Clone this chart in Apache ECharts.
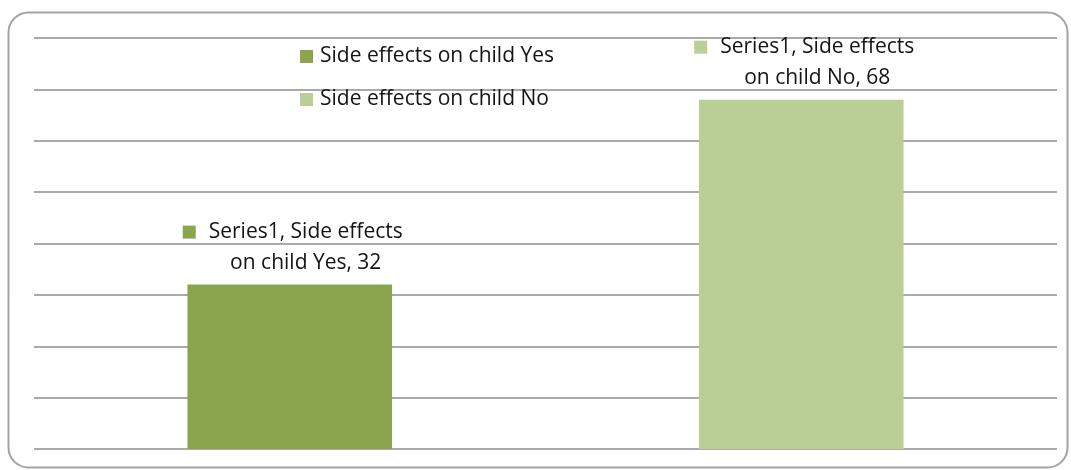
<!DOCTYPE html>
<html>
<head>
<meta charset="utf-8">
<script src="https://cdn.jsdelivr.net/npm/echarts@6/dist/echarts.min.js"></script>
<style>
  html, body { margin: 0; padding: 0; background: #ffffff; }
  #chart { width: 1071px; height: 470px; }
</style>
</head>
<body>
<div id="chart"></div>
<script>
// Survey answers: did the child experience side effects?
const categories = ['Side effects on child Yes', 'Side effects on child No'];
const values = [32, 68];
const seriesName = 'Series1';
const colors = ['#8aa54e', '#b9cf96'];

const FONT = 'Open Sans';
const TEXT = '#141414';
const FS = 21;

const chart = echarts.init(document.getElementById('chart'));

// One bar series per category so each gets its own legend entry;
// bars overlap fully (barGap -100%) so each sits centred on its category.
// Each data label carries a colour key on its first line; the second line
// gets an equally wide blank so both text lines stay centred together.
const series = categories.map((name, i) => ({
  name: name,
  type: 'bar',
  barWidth: '40%',
  barGap: '-100%',
  itemStyle: { color: colors[i] },
  data: values.map((v, j) => (j === i ? v : '-')),
  label: {
    show: true,
    position: 'top',
    distance: 6,
    offset: [3, 0],
    fontFamily: FONT,
    fontSize: FS,
    color: TEXT,
    lineHeight: 31,
    align: 'center',
    formatter: p => {
      const parts = p.seriesName.split(' ');
      const head = parts.slice(0, 2).join(' ');
      const tail = parts.slice(2).join(' ');
      return '{sq| }{gap| }' + seriesName + ', ' + head + '\n{pad| }' + tail + ', ' + p.value;
    },
    rich: {
      sq: { width: 13, height: 13, backgroundColor: colors[i] },
      gap: { width: 13 },
      pad: { width: 26 }
    }
  }
}));

chart.setOption({
  animation: false,
  backgroundColor: '#ffffff',
  grid: { left: 34, right: 14, top: 38, bottom: 21 },
  legend: {
    orient: 'vertical',
    left: 300,
    top: 46,
    padding: 0,
    icon: 'rect',
    itemWidth: 13,
    itemHeight: 13,
    itemGap: 22,
    textStyle: { fontFamily: FONT, fontSize: FS, color: TEXT, padding: [0, 0, 0, 2] },
    data: categories
  },
  xAxis: {
    type: 'category',
    data: categories,
    axisLine: { show: false },
    axisTick: { show: false },
    axisLabel: { show: false }
  },
  yAxis: {
    type: 'value',
    min: 0,
    max: 80,
    interval: 10,
    axisLabel: { show: false },
    axisLine: { show: false },
    axisTick: { show: false },
    splitLine: { lineStyle: { color: '#8e8e8e', width: 1.5 } }
  },
  graphic: [{
    type: 'rect',
    silent: true,
    z: -1,
    shape: { x: 8.5, y: 12.5, width: 1059, height: 455, r: 20 },
    style: { fill: 'none', stroke: '#a3a3a3', lineWidth: 2 }
  }],
  series: series
});
</script>
</body>
</html>
